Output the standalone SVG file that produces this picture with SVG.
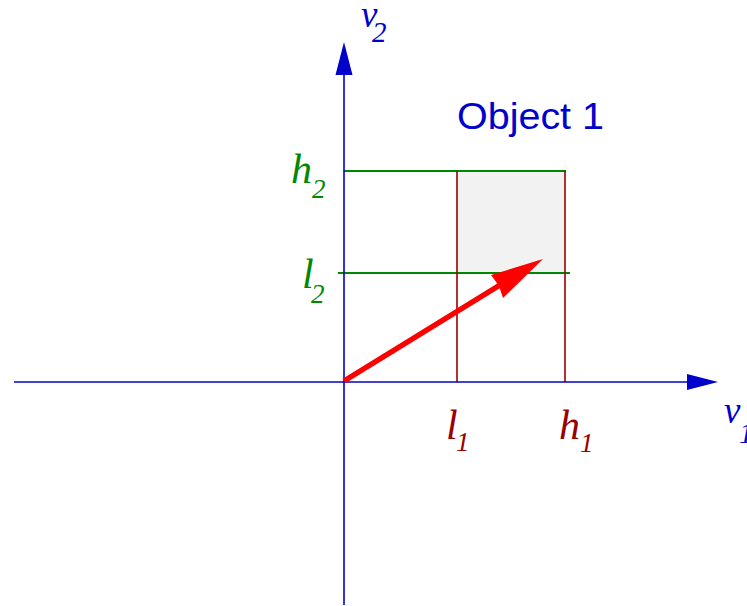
<svg xmlns="http://www.w3.org/2000/svg" width="747" height="606" viewBox="0 0 747 606">
<style>
.ax{stroke:#0000cc;stroke-width:1.6;fill:none}
.axh{fill:#0000cc;stroke:none}
.g{stroke:#008800;stroke-width:1.8;fill:none}
.r{stroke:#990000;stroke-width:1.6;fill:none}
.m{font-family:"Liberation Serif",serif;font-style:italic}
.lb{font-size:42px}
.sb{font-size:27px}
.blue{fill:#0000cc}
.green{fill:#008800}
.dred{fill:#990000}
</style>
<rect width="747" height="606" fill="#ffffff"/>
<g id="region">
<rect x="457" y="171" width="108" height="102" fill="#f2f2f2"/>
</g>
<g id="bounds">
<line class="g" x1="344" y1="171" x2="566" y2="171"/>
<line class="g" x1="338" y1="273" x2="570" y2="273"/>
<line class="r" x1="457" y1="171" x2="457" y2="382"/>
<line class="r" x1="565" y1="171" x2="565" y2="382"/>
</g>
<g id="axes">
<line class="ax" x1="344" y1="605" x2="344" y2="70"/>
<polygon class="axh" points="344,42 352.5,75 335.5,75"/>
<line class="ax" x1="14" y1="382" x2="690" y2="382"/>
<polygon class="axh" points="718,382 687,374 687,390"/>
</g>
<g id="vector">
<line x1="344" y1="381" x2="500" y2="285" stroke="#ff0000" stroke-width="5.5"/>
<polygon points="543,259 491,275 499,286 503,298" fill="#ff0000"/>
</g>
<g id="labels">
<text class="m blue" x="361" y="27" font-size="37">v</text>
<text class="m blue" x="372" y="42" font-size="29">2</text>
<text class="m blue" x="724" y="423" font-size="37">v</text>
<text class="m blue" x="739" y="443" font-size="29">1</text>
<text class="m green lb" x="291" y="183">h</text>
<text class="m green sb" x="312" y="198">2</text>
<text class="m green lb" x="302" y="288">l</text>
<text class="m green sb" x="311" y="303">2</text>
<text class="m dred lb" x="446" y="439">l</text>
<text class="m dred sb" x="456" y="451">1</text>
<text class="m dred lb" x="559" y="439">h</text>
<text class="m dred sb" x="580" y="452">1</text>
<text x="457" y="129" font-family="Liberation Sans, Arial, sans-serif" font-size="37" fill="#0000cc" textLength="147" lengthAdjust="spacingAndGlyphs">Object 1</text>
</g>
</svg>
